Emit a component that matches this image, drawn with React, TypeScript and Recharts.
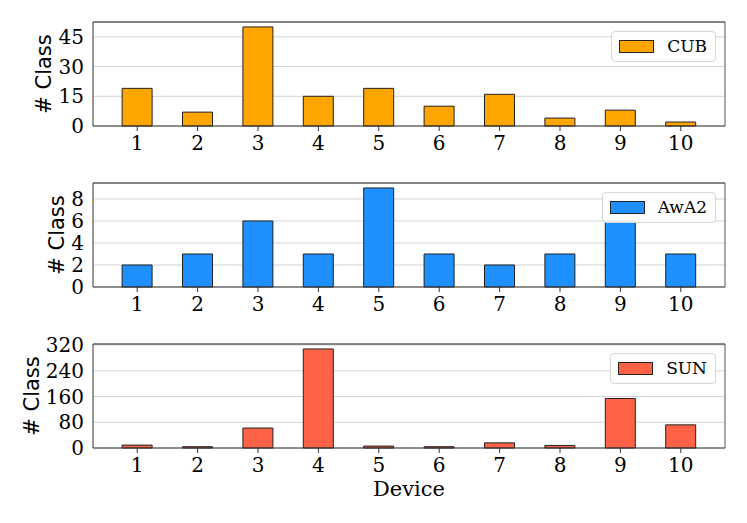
import {
  BarChart,
  Bar,
  XAxis,
  YAxis,
  CartesianGrid,
  Label,
} from "recharts";

const devices = ["1", "2", "3", "4", "5", "6", "7", "8", "9", "10"];
const cubValues = [19, 7, 50, 15, 19, 10, 16, 4, 8, 2];
const awa2Values = [2, 3, 6, 3, 9, 3, 2, 3, 6, 3];
const sunValues = [9, 4, 62, 308, 6, 4, 16, 8, 154, 72];
const cubTicks = [0, 15, 30, 45];
const awa2Ticks = [0, 2, 4, 6, 8];
const sunTicks = [0, 80, 160, 240, 320];

const SERIF = "'DejaVu Serif', serif";
const SANS = "'DejaVu Sans', sans-serif";

const CHART_W = 747;
const M_TOP = 22;
const M_RIGHT = 22;
const Y_W = 93;

type PanelProps = {
  name: string;
  values: number[];
  ticks: number[];
  color: string;
  top: number;
  height: number;
  axisHeight: number;
  labelX: number;
  showDevice?: boolean;
};

const Panel = ({
  name,
  values,
  ticks,
  color,
  top,
  height,
  axisHeight,
  labelX,
  showDevice,
}: PanelProps) => {
  const data = devices.map((d, i) => ({ device: d, value: values[i] }));
  const maxVal = Math.max(...values) * 1.05;
  const plotRight = CHART_W - M_RIGHT;

  return (
    <div style={{ position: "absolute", left: 0, top, width: CHART_W, height }}>
      <BarChart
        width={CHART_W}
        height={height}
        data={data}
        margin={{ top: M_TOP, right: M_RIGHT, left: 0, bottom: 0 }}
        barCategoryGap="25%"
      >
        <CartesianGrid vertical={false} stroke="#d3d3d3" strokeWidth={1} />
        {/* frame: top and right spines */}
        <CartesianGrid
          horizontal={false}
          verticalPoints={[plotRight]}
          stroke="#555"
          strokeWidth={1}
        />
        <CartesianGrid
          vertical={false}
          horizontalPoints={[M_TOP]}
          stroke="#222"
          strokeWidth={1}
        />
        <XAxis
          dataKey="device"
          height={axisHeight}
          padding={{ left: 14, right: 14 }}
          tickSize={5}
          tickMargin={5}
          tickLine={{ stroke: "#333" }}
          axisLine={{ stroke: "#333" }}
          tick={{ fill: "#000", fontFamily: SERIF, fontSize: 20 }}
          interval={0}
        >
          {showDevice && (
            <Label
              content={(p: any) => {
                const vb = p.viewBox;
                return (
                  <text
                    x={vb.x + vb.width / 2}
                    y={vb.y + 47.5}
                    textAnchor="middle"
                    fontFamily={SERIF}
                    fontSize={21}
                    fill="#000"
                  >
                    Device
                  </text>
                );
              }}
            />
          )}
        </XAxis>
        <YAxis
          width={Y_W}
          domain={[0, maxVal]}
          ticks={ticks}
          interval={0}
          tickSize={0}
          tickMargin={9}
          tickLine={false}
          axisLine={{ stroke: "#333" }}
          tick={{ fill: "#000", fontFamily: SERIF, fontSize: 20 }}
        >
          <Label
            content={(p: any) => {
              const vb = p.viewBox;
              const cy = vb.y + vb.height / 2;
              return (
                <text
                  x={labelX}
                  y={cy}
                  transform={`rotate(-90 ${labelX} ${cy})`}
                  textAnchor="middle"
                  dominantBaseline="central"
                  fontFamily={SANS}
                  fontSize={21}
                  fill="#000"
                >
                  # Class
                </text>
              );
            }}
          />
        </YAxis>
        <Bar
          dataKey="value"
          name={name}
          fill={color}
          stroke="#222"
          strokeWidth={1}
          isAnimationActive={false}
        />
      </BarChart>
      {/* legend box, drawn above the bars like matplotlib's */}
      <div
        style={{
          position: "absolute",
          top: 31,
          right: 31,
          boxSizing: "border-box",
          height: 31,
          display: "flex",
          alignItems: "center",
          padding: "0 8px 0 7px",
          border: "1px solid #d6d6d6",
          borderRadius: 4,
          background: "rgba(255,255,255,0.9)",
        }}
      >
        <span
          style={{
            display: "inline-block",
            boxSizing: "border-box",
            width: 35,
            height: 13,
            background: color,
            border: "1px solid #222",
            marginRight: 13,
          }}
        />
        <span
          style={{
            fontFamily: SERIF,
            fontSize: 17,
            color: "#000",
            lineHeight: "17px",
          }}
        >
          {name}
        </span>
      </div>
    </div>
  );
};

export default function App() {
  return (
    <div
      style={{
        position: "absolute",
        left: 0,
        top: 0,
        width: 747,
        height: 523,
        background: "#fff",
      }}
    >
      <Panel
        name="CUB"
        values={cubValues}
        ticks={cubTicks}
        color="#FFA500"
        top={0}
        height={161}
        axisHeight={35}
        labelX={44}
      />
      <Panel
        name="AwA2"
        values={awa2Values}
        ticks={awa2Ticks}
        color="#1E90FF"
        top={161}
        height={161}
        axisHeight={35}
        labelX={57}
      />
      <Panel
        name="SUN"
        values={sunValues}
        ticks={sunTicks}
        color="#FF6347"
        top={322}
        height={201}
        axisHeight={75}
        labelX={32}
        showDevice
      />
    </div>
  );
}
